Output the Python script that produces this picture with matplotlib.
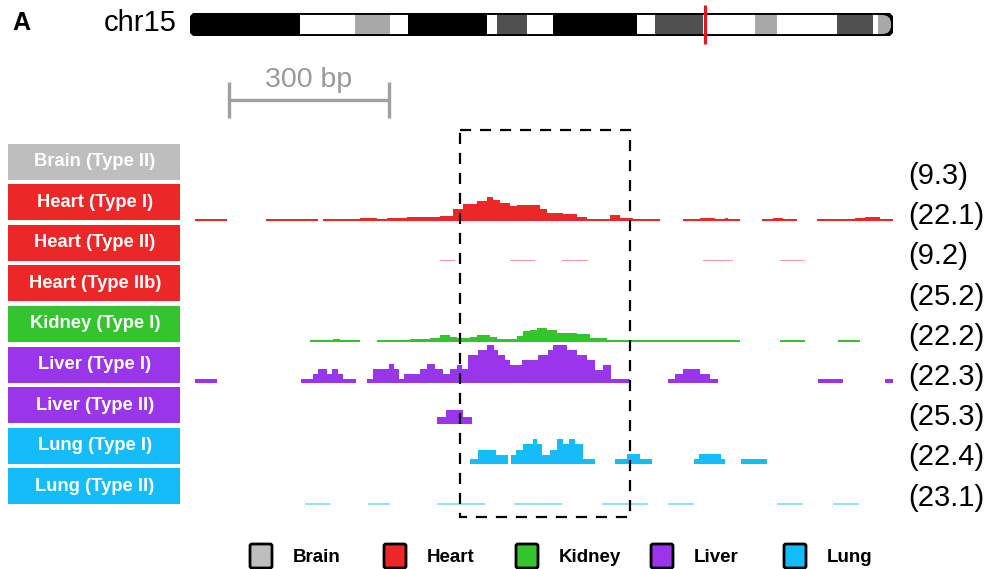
import numpy as np
import matplotlib
matplotlib.use("Agg")
import matplotlib.pyplot as plt
from matplotlib.patches import FancyBboxPatch, Rectangle

plt.rcParams['font.family'] = ['Liberation Sans', 'DejaVu Sans']

# tracks
track_names = ["Brain (Type II)", "Heart (Type I)", "Heart (Type II)", "Heart (Type IIb)",
               "Kidney (Type I)", "Liver (Type I)", "Liver (Type II)", "Lung (Type I)", "Lung (Type II)"]
track_tissue = ["Brain", "Heart", "Heart", "Heart", "Kidney", "Liver", "Liver", "Lung", "Lung"]
track_scale = ["(9.3)", "(22.1)", "(9.2)", "(25.2)", "(22.2)", "(22.3)", "(25.3)", "(22.4)", "(23.1)"]
tissues = ["Brain", "Heart", "Kidney", "Liver", "Lung"]
tissue_colors = {"Brain": "#BEBEBE", "Heart": "#EC2727", "Kidney": "#33C42E",
                 "Liver": "#9A35EC", "Lung": "#14BDF7"}

# coverage segments: (start bp, end bp, height)
cov_brain = []
cov_heart1 = [(0, 13, 1.5), (13, 23, 2), (23, 60, 1.5),
              (133, 159, 1.5), (159, 206, 2), (206, 231, 1.5),
              (240, 285, 1.5), (285, 309, 2), (309, 341, 3), (341, 360, 2), (360, 398, 3),
              (398, 422, 4), (422, 459, 4), (459, 484, 5), (484, 503, 12), (503, 529, 17),
              (529, 548, 20), (548, 559, 24), (559, 572, 21), (572, 591, 18), (591, 604, 15),
              (604, 647, 16), (647, 660, 12), (660, 690, 8), (690, 716, 7), (716, 735, 4),
              (735, 778, 2), (778, 797, 6), (797, 821, 3), (821, 840, 2), (840, 872, 1.5),
              (915, 947, 1.5), (947, 975, 2.5), (975, 994, 1.5), (994, 1000, 2.5), (1000, 1022, 1.5),
              (1063, 1084, 1.5), (1084, 1103, 2.5), (1103, 1129, 1.5),
              (1166, 1238, 1.5), (1238, 1256, 3), (1256, 1284, 4), (1284, 1309, 2)]
cov_heart2 = [(459, 488, 1.5), (591, 638, 1.5), (688, 737, 1.5), (953, 1009, 1.5), (1097, 1144, 1.5)]
cov_heart2b = []
cov_kidney1 = [(216, 259, 2), (259, 272, 3), (272, 309, 2),
               (341, 403, 2), (403, 441, 3), (441, 459, 4), (459, 478, 7), (478, 491, 5),
               (491, 516, 4), (516, 529, 5), (529, 553, 7), (553, 566, 5), (566, 604, 3),
               (604, 615, 6), (615, 628, 11), (628, 641, 12), (641, 660, 14), (660, 679, 12),
               (679, 716, 9), (716, 741, 8), (741, 773, 4), (773, 816, 2.5), (816, 872, 2.5),
               (872, 1022, 2), (1097, 1144, 2), (1206, 1247, 2)]
cov_liver1 = [(0, 41, 4),
              (199, 221, 4), (221, 231, 9), (231, 248, 14), (248, 257, 9), (257, 268, 14),
              (268, 278, 9), (278, 302, 4),
              (322, 334, 4), (334, 364, 14), (364, 373, 19), (373, 383, 14), (383, 392, 4),
              (392, 422, 9), (422, 435, 14), (435, 450, 19), (450, 465, 14), (465, 478, 9),
              (478, 491, 14), (491, 501, 18), (501, 512, 14), (512, 531, 28), (531, 548, 33),
              (548, 561, 38), (561, 568, 33), (568, 581, 28), (581, 591, 23), (591, 613, 18),
              (613, 643, 23), (643, 662, 28), (662, 671, 33), (671, 698, 38), (698, 716, 33),
              (716, 735, 28), (735, 750, 23), (750, 765, 13), (765, 780, 18), (780, 816, 4),
              (887, 900, 4), (900, 915, 9), (915, 947, 14), (947, 966, 9), (966, 981, 4),
              (1168, 1215, 4), (1294, 1309, 4)]
cov_liver2 = [(454, 471, 7), (471, 503, 14), (503, 519, 7)]
cov_lung1 = [(516, 531, 5), (531, 564, 14), (564, 587, 9),
             (593, 602, 9), (602, 615, 14), (615, 634, 20), (634, 641, 25), (641, 651, 20),
             (651, 666, 9), (666, 679, 14), (679, 690, 25), (690, 701, 20), (701, 713, 25),
             (713, 728, 20), (728, 750, 5),
             (788, 810, 5), (810, 834, 10), (834, 857, 5),
             (936, 945, 5), (945, 986, 10), (986, 994, 5), (1024, 1073, 5)]
cov_lung2 = [(206, 253, 1.5), (324, 366, 1.5), (454, 544, 1.5), (598, 688, 1.5),
             (763, 849, 1.5), (887, 936, 1.5), (1091, 1140, 1.5), (1196, 1245, 1.5)]
coverage = [cov_brain, cov_heart1, cov_heart2, cov_heart2b, cov_kidney1,
            cov_liver1, cov_liver2, cov_lung1, cov_lung2]
faint_tracks = [2, 8]

window_bp = 1309
highlight = (497, 816)
scalebar_start = 64
scalebar_len = 300

# chr15 ideogram (Mb)
chrom_len = 102.5
band_start = [0, 16.0, 24.1, 29.2, 31.8, 43.3, 44.8, 49.1, 52.9, 65.2, 67.8, 74.8, 82.4, 85.6, 94.3, 99.6, 100.3]
band_end = band_start[1:] + [chrom_len]
band_stain = ["k", "w", "g", "w", "k", "w", "d", "w", "k", "w", "d", "w", "g", "w", "d", "w", "g"]
stain_colors = {"k": "#000000", "w": "#FFFFFF", "g": "#A8A8A8", "d": "#505050"}
locus_mb = 75.1

W, H = 987, 569
fig = plt.figure(figsize=(W / 100, H / 100), dpi=100)

# background axes in pixel units for labels and legend
bg = fig.add_axes([0, 0, 1, 1])
bg.set_xlim(0, W)
bg.set_ylim(H, 0)
bg.axis("off")

# tracks axes in bp
tx0, tx1, ty0, ty1 = 195, 893, 60, 525
ax = fig.add_axes([tx0 / W, 1 - ty1 / H, (tx1 - tx0) / W, (ty1 - ty0) / H])
ax.set_xlim(0, window_bp)
ax.set_ylim(ty1, ty0)
ax.axis("off")
ax.patch.set_alpha(0)

for i, name in enumerate(track_names):
    base = 180 + 40.6 * i
    col = tissue_colors[track_tissue[i]]
    # label box
    bg.add_patch(Rectangle((8, base - 18.5 - 18), 172, 36, facecolor=col, edgecolor="none"))
    bg.text(95, base - 18.5, name, color="white", fontsize=13.2, fontweight="bold",
            ha="center", va="center")
    bg.text(908, 176 + 40.2 * i, track_scale[i], fontsize=21, ha="left", va="center")
    segs = coverage[i]
    if segs:
        s = np.array([a for a, b, c in segs], dtype=float)
        e = np.array([b for a, b, c in segs], dtype=float)
        h = np.array([c for a, b, c in segs], dtype=float)
        ax.bar(s, -h, width=e - s, bottom=base, align="edge", color=col,
               alpha=0.45 if i in faint_tracks else 1.0, linewidth=0)

# highlighted region
ax.add_patch(Rectangle((highlight[0], 130), highlight[1] - highlight[0], 387, fill=False,
                       edgecolor="black", linewidth=1.6, linestyle=(0, (5, 4))))

# scale bar
sb_col = "#A0A0A0"
ax.hlines(100, scalebar_start, scalebar_start + scalebar_len, color=sb_col, linewidth=2.4)
ax.vlines([scalebar_start, scalebar_start + scalebar_len], 82, 118, color=sb_col, linewidth=2.4)
ax.text(scalebar_start + scalebar_len / 2, 80, "%d bp" % scalebar_len, color="#999999",
        fontsize=20.5, ha="center", va="center")

# ideogram
ix0, ix1, iy0, iy1 = 190, 893, 13, 36
ida = fig.add_axes([ix0 / W, 1 - iy1 / H, (ix1 - ix0) / W, (iy1 - iy0) / H])
ida.set_xlim(0, chrom_len)
ida.set_ylim(0, 1)
ida.axis("off")
ida.patch.set_alpha(0)
px_per_mb = (ix1 - ix0) / chrom_len
r_x = 11 / px_per_mb
aspect = (11 / (iy1 - iy0)) / r_x
outline = FancyBboxPatch((0, 0), chrom_len, 1, boxstyle="round,pad=0,rounding_size=%f" % r_x,
                         mutation_aspect=aspect, facecolor="none", edgecolor="black",
                         linewidth=2.8, zorder=3)
ida.add_patch(outline)
bars = ida.bar(band_start, 1, width=np.array(band_end) - np.array(band_start), align="edge",
               color=[stain_colors[s] for s in band_stain], linewidth=0)
for b in bars:
    b.set_clip_path(outline)
ida.vlines(locus_mb, -0.35, 1.35, color="#E8141B", linewidth=2.2, clip_on=False, zorder=4)

bg.text(12, 23, "A", fontsize=18, fontweight="bold", ha="left", va="center")
bg.text(104, 23, "chr15", fontsize=21, ha="left", va="center")

# legend
legend_x = [250, 384, 516, 651, 784]
for t, lx in zip(tissues, legend_x):
    bg.add_patch(FancyBboxPatch((lx, 544), 22, 24, boxstyle="round,pad=0,rounding_size=2",
                                facecolor=tissue_colors[t], edgecolor="black", linewidth=2))
    bg.text(lx + 43, 557, t, fontsize=13.5, fontweight="bold", ha="left", va="center")

fig.savefig("out.png", dpi=100)
